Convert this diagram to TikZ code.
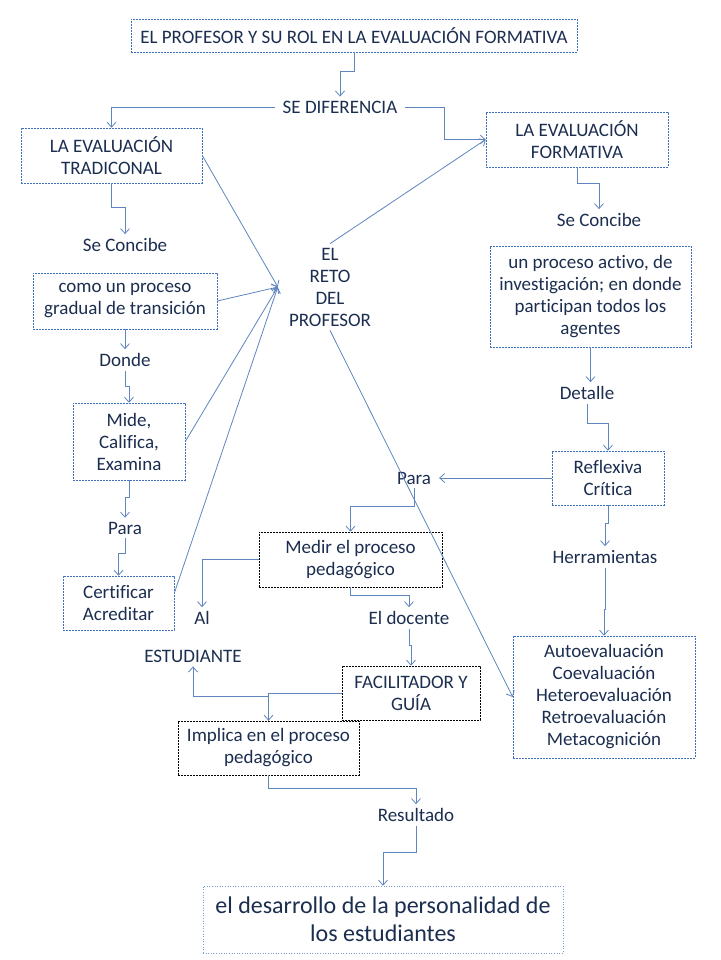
\documentclass[tikz,border=0pt]{standalone}
\usepackage{fontspec}
\setmainfont{Carlito}[Ligatures=NoCommon]
\usetikzlibrary{arrows.meta}
\definecolor{ink}{RGB}{28,46,80}
\definecolor{edge}{RGB}{62,112,186}
\definecolor{wire}{RGB}{96,134,192}

\begin{document}
\begin{tikzpicture}[
			x=1pt, y=-1pt,
			>={Straight Barb[length=5pt,width=9pt]},
			every node/.style = {text=ink, align=center, font=\fontsize{19}{22}\selectfont},
			box/.style = {draw=edge, dash pattern=on 2pt off 1pt, line width=0.6pt, inner sep=0pt},
			dbox/.style = {draw=black, dash pattern=on 2pt off 1pt, line width=0.6pt, inner sep=0pt},
			word/.style = {inner xsep=8pt, inner ysep=4pt},
			link/.style = {draw=wire, line width=0.8pt, ->}
		]
		\path[fill=white, use as bounding box] (0,0) rectangle (720,960);
		\node[box, minimum width=446pt, minimum height=33pt] (title) at (354,35.5) {EL PROFESOR Y SU ROL EN LA EVALUACIÓN FORMATIVA};
		\node[word] (sediff) at (340,107) {SE DIFERENCIA};
		\node[box, minimum width=181pt, minimum height=55pt] (trad) at (111.5,155.5) {LA EVALUACIÓN\\TRADICONAL};
		\node[box, minimum width=182pt, minimum height=55pt] (form) at (577,139.5) {LA EVALUACIÓN\\FORMATIVA};
		\node[word] (concL) at (125,245) {Se Concibe};
		\node[word] (concR) at (599,220) {Se Concibe};
		\node[inner xsep=11pt, inner ysep=4pt] (reto) at (330,287) {EL\\RETO\\DEL\\PROFESOR};
		\node[box, minimum width=184pt, minimum height=56pt] (gradual) at (125,301) {como un proceso\\gradual de transición};
		\node[word] (donde) at (125,360) {Donde};
		\node[box, minimum width=112pt, minimum height=77pt] (mide) at (129,441.5) {Mide,\\Califica,\\Examina};
		\node[word] (paraL) at (125,528) {Para};
		\node[box, minimum width=111pt, minimum height=54pt] (cert) at (118.5,603) {Certificar\\Acreditar};
		\node[box, minimum width=201pt, minimum height=101pt] (activo) at (590.5,296.5) {un proceso activo, de\\investigación; en donde\\participan todos los\\agentes};
		\node[word] (detalle) at (587,393) {Detalle};
		\node[box, minimum width=112pt, minimum height=54pt] (reflex) at (608,478) {Reflexiva\\Crítica};
		\node[word] (paraR) at (414,478) {Para};
		\node[word] (herr) at (605,557) {Herramientas};
		\node[box, minimum width=182pt, minimum height=122pt] (tools) at (604,697) {Autoevaluación\\Coevaluación\\Heteroevaluación\\Retroevaluación\\Metacognición};
		\node[dbox, minimum width=183pt, minimum height=55pt] (medir) at (350.5,559.5) {Medir el proceso\\pedagógico};
		\node[word] (al) at (202,618) {Al};
		\node[word] (docente) at (409,618) {El docente};
		\node[word] (estud) at (193,656) {ESTUDIANTE};
		\node[dbox, minimum width=138pt, minimum height=54pt] (facil) at (411,693) {FACILITADOR Y\\GUÍA};
		\node[dbox, minimum width=181pt, minimum height=54pt] (implica) at (268.5,748) {Implica en el proceso\\pedagógico};
		\node[word] (result) at (416,815) {Resultado};
		\node[draw=edge!70, dotted, line width=0.6pt, minimum width=360pt, minimum height=67pt, inner sep=0pt,
			font=\fontsize{24}{28}\selectfont] (final) at (383,919.5) {el desarrollo de la personalidad de\\los estudiantes};
		% left branch
		\draw[link] (title.south) -- ++(0,19) -| (sediff.north);
		\draw[link] (sediff.west) -| (trad.north);
		\draw[link] (sediff.east) -- ++(39,0) |- (form.west);
		\draw[link] (trad.south) -- ++(0,24) -| (concL.north);
		\draw[link] (gradual.south) -- (donde.north);
		\draw[link] (donde.south) -- ++(0,16) -| (mide.north);
		\draw[link] (mide.south) -- ++(0,17) -| (paraL.north);
		\draw[link] (paraL.south) -- ++(0,15) -| (cert.north);
		% to the centre
		\draw[link] (trad.east) -- (reto.west);
		\draw[link] (gradual.east) -- (reto.west);
		\draw[link] (mide.east) -- (reto.west);
		\draw[link] (cert.10) -- (reto.west);
		\draw[link] (reto.north) -- (form.west);
		\draw[link] (reto.south) -- (tools.west);
		% right branch
		\draw[link] (form.south) -- ++(0,16) -| (concR.north);
		\draw[link] (activo.south) -- (activo.south |- detalle.north);
		\draw[link] (detalle.south) -- ++(0,20) -| (reflex.north);
		\draw[link] (reflex.west) -- (paraR.east);
		\draw[link] (reflex.south) -- ++(0,18) -| (herr.north);
		\draw[link] (herr.south) -- ++(0,42) -| (tools.north);
		% lower part
		\draw[link] (paraR.south) -- ++(0,18) -| (medir.north);
		\draw[link] (medir.west) -| (al.north);
		\draw[link] (medir.south) -- ++(0,8) -| (docente.north);
		\draw[link] (docente.south) -- ++(0,17) -| (facil.north);
		\draw[link] (facil.west) -| (implica.north);
		\draw[link] (implica.north) -- ++(0,-24) -| (estud.south);
		\draw[link] (implica.south) -- ++(0,13) -| (result.north);
		\draw[link] (result.south) -- ++(0,27) -| (final.north);
	\end{tikzpicture}
\end{document}
